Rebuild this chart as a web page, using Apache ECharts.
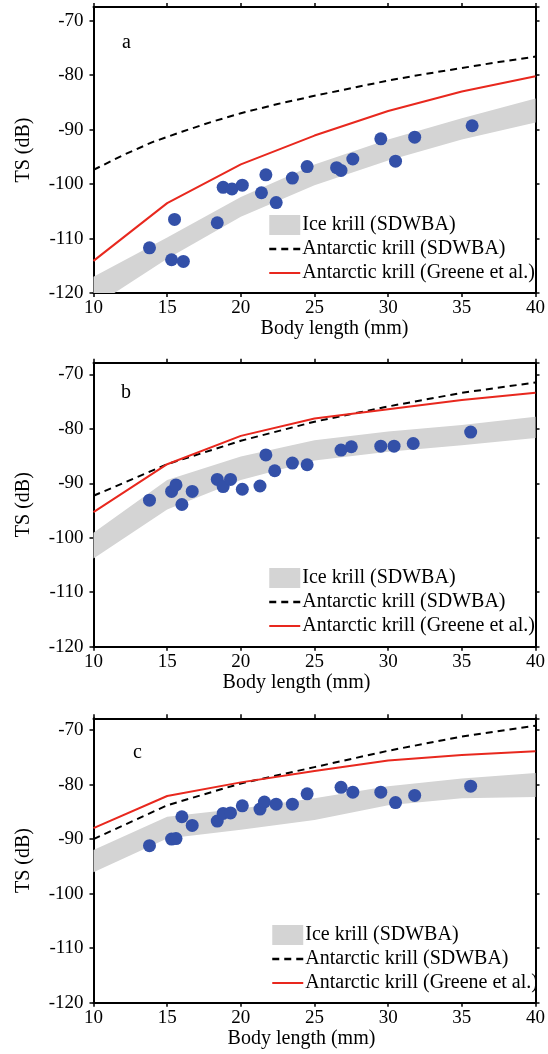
<!DOCTYPE html>
<html>
<head>
<meta charset="utf-8">
<script src="https://cdn.jsdelivr.net/npm/echarts@6/dist/echarts.min.js"></script>
<style>
	html, body { margin: 0; padding: 0; background: #fff; }
	#main { width: 548px; height: 1054px; }
</style>
</head>
<body>
<div id="main"></div>
<script>
// body length grid used by the model curves (mm)
var curveLen = [10, 15, 20, 25, 30, 35, 40];
var dashLenA = [10, 12, 14, 16, 18, 20, 22.5, 25, 27.5, 30, 32.5, 35, 37.5, 40];

// panel a
var bandLowA = [-122.5, -113.7, -106.0, -100.2, -95.7, -91.8, -88.7];
var bandUpA = [-117.0, -109.8, -102.4, -96.4, -91.8, -87.9, -84.3];
var sdwbaA = [-97.4, -94.7, -92.3, -90.4, -88.6, -87.0, -85.3, -83.8, -82.4, -81.0, -79.8, -78.7, -77.6, -76.6];
var greeneA = [-114.1, -103.5, -96.4, -91.1, -86.6, -83.0, -80.2];
var lenA = [13.8, 15.3, 15.5, 16.1, 18.4, 18.8, 19.4, 20.1, 21.4, 21.7, 22.4, 23.5, 24.5, 26.5, 26.8, 27.6, 29.5, 30.5, 31.8, 35.7];
var tsA = [-111.7, -113.9, -106.5, -114.2, -107.1, -100.6, -100.9, -100.2, -101.6, -98.3, -103.4, -98.9, -96.8, -97.0, -97.5, -95.4, -91.7, -95.8, -91.4, -89.3];

// panel b
var bandLowB = [-103.8, -94.8, -89.4, -85.8, -84.2, -83.0, -81.7];
var bandUpB = [-99.1, -89.4, -85.1, -82.1, -80.5, -79.3, -77.8];
var sdwbaB = [-92.3, -86.5, -82.2, -78.7, -75.9, -73.4, -71.5];
var greeneB = [-95.3, -86.5, -81.3, -78.1, -76.4, -74.7, -73.4];
var lenB = [13.8, 15.3, 15.6, 16.0, 16.7, 18.4, 18.8, 19.3, 20.1, 21.3, 21.7, 22.3, 23.5, 24.5, 26.8, 27.5, 29.5, 30.4, 31.7, 35.6];
var tsB = [-93.1, -91.5, -90.3, -93.9, -91.5, -89.3, -90.6, -89.3, -91.1, -90.5, -84.8, -87.7, -86.3, -86.6, -83.9, -83.3, -83.2, -83.2, -82.7, -80.6];

// panel c
var bandLowC = [-96.1, -89.9, -88.3, -86.5, -83.8, -82.5, -82.3];
var bandUpC = [-92.0, -85.9, -84.4, -82.5, -80.3, -78.9, -77.9];
var sdwbaC = [-90.0, -83.8, -79.8, -76.8, -73.8, -71.2, -69.2];
var greeneC = [-88.0, -82.1, -79.6, -77.5, -75.6, -74.6, -73.9];
var lenC = [13.8, 15.3, 15.6, 16.0, 16.7, 18.4, 18.8, 19.3, 20.1, 21.3, 21.6, 22.4, 23.5, 24.5, 26.8, 27.6, 29.5, 30.5, 31.8, 35.6];
var tsC = [-91.2, -90.0, -89.9, -85.9, -87.5, -86.7, -85.3, -85.2, -83.9, -84.5, -83.2, -83.6, -83.6, -81.7, -80.5, -81.4, -81.4, -83.3, -82.0, -80.3];

var yTicks = [-120, -110, -100, -90, -80, -70];
var panelNames = ['a', 'b', 'c'];

var FONT = "'Liberation Serif', 'Times New Roman', serif";
var NAME_BAND = 'Ice krill (SDWBA)';
var NAME_SDWBA = 'Antarctic krill (SDWBA)';
var NAME_GREENE = 'Antarctic krill (Greene et al.)';
var BAND_COLOR = '#d4d4d4';

var panels = [
	{ band: [bandLowA, bandUpA], dash: [dashLenA, sdwbaA], red: greeneA, len: lenA, ts: tsA,
	  top: 7, height: 286, ymax: -67.5, legendTop: 215, legendLeft: 268, letter: [122, 33], xNamePad: [0, 0, 0, 40] },
	{ band: [bandLowB, bandUpB], dash: [curveLen, sdwbaB], red: greeneB, len: lenB, ts: tsB,
	  top: 362.7, height: 284, ymax: -67.87, legendTop: 568, legendLeft: 268, letter: [121, 383], xNamePad: [0, 36, 0, 0] },
	{ band: [bandLowC, bandUpC], dash: [curveLen, sdwbaC], red: greeneC, len: lenC, ts: tsC,
	  top: 718.3, height: 284.4, ymax: -67.85, legendTop: 925, legendLeft: 271, letter: [133, 743], xNamePad: [0, 26, 0, 0] }
];

function pairs(xs, ys) {
	return xs.map(function (x, i) { return [x, ys[i]]; });
}

// the shaded band: one polygon, upper edge forward then lower edge back
function bandRenderer(low, up) {
	return function (params, api) {
		if (params.dataIndex !== 0) {
			return;
		}
		var pts = [];
		curveLen.forEach(function (x, i) {
			pts.push(api.coord([x, up[i]]));
		});
		for (var i = curveLen.length - 1; i >= 0; i--) {
			pts.push(api.coord([curveLen[i], low[i]]));
		}
		return {
			type: 'polygon',
			shape: { points: pts },
			style: { fill: BAND_COLOR, stroke: null }
		};
	};
}

var option = {
	backgroundColor: '#fff',
	animation: false,
	textStyle: { fontFamily: FONT, color: '#000' },
	title: [],
	legend: [],
	grid: [],
	xAxis: [],
	yAxis: [],
	series: []
};

panels.forEach(function (p, k) {
	var axisLine = { show: true, onZero: false, lineStyle: { color: '#000', width: 2 } };
	var tick = { show: true, length: 4, lineStyle: { color: '#000', width: 1.5 } };

	option.grid.push({ left: 93.5, right: 11, top: p.top, height: p.height });

	option.title.push({
		text: panelNames[k], left: p.letter[0], top: p.letter[1], padding: 0,
		textStyle: { fontFamily: FONT, fontSize: 20, fontWeight: 'normal', color: '#000' }
	});

	// bottom + top x axes
	option.xAxis.push({
		type: 'value', gridIndex: k, min: 10, max: 40, interval: 5, position: 'bottom',
		name: 'Body length (mm)', nameLocation: 'middle', nameGap: 26,
		nameTextStyle: { fontFamily: FONT, fontSize: 20, color: '#000', padding: p.xNamePad },
		axisLine: axisLine, axisTick: tick, splitLine: { show: false },
		axisLabel: { fontFamily: FONT, fontSize: 19, color: '#000', margin: 6 }
	});
	option.xAxis.push({
		type: 'value', gridIndex: k, min: 10, max: 40, interval: 5, position: 'top',
		axisLine: axisLine, axisTick: tick, splitLine: { show: false }, axisLabel: { show: false }
	});

	// left + right y axes
	option.yAxis.push({
		type: 'value', gridIndex: k, min: yTicks[0], max: p.ymax, interval: 10, position: 'left',
		name: 'TS (dB)', nameLocation: 'middle', nameGap: 60,
		nameTextStyle: { fontFamily: FONT, fontSize: 20, color: '#000' },
		axisLine: axisLine, axisTick: tick, splitLine: { show: false },
		axisLabel: { fontFamily: FONT, fontSize: 19, color: '#000', margin: 10, showMaxLabel: false }
	});
	option.yAxis.push({
		type: 'value', gridIndex: k, min: yTicks[0], max: p.ymax, interval: 10, position: 'right',
		axisLine: axisLine, axisTick: tick, splitLine: { show: false }, axisLabel: { show: false }
	});

	var xi = k * 2, yi = k * 2;
	var low = p.band[0], up = p.band[1];

	option.series.push({
		name: NAME_BAND, type: 'custom', xAxisIndex: xi, yAxisIndex: yi, clip: true,
		data: curveLen.map(function (x, i) { return [x, low[i], up[i]]; }),
		encode: { x: 0, y: [1, 2] },
		renderItem: bandRenderer(low, up),
		itemStyle: { color: BAND_COLOR }, silent: true, z: 1
	});
	option.series.push({
		name: NAME_SDWBA, type: 'line', xAxisIndex: xi, yAxisIndex: yi,
		data: pairs(p.dash[0], p.dash[1]), symbol: 'none',
		lineStyle: { color: '#000', width: 2, type: [7, 5] }, itemStyle: { color: '#000' }, z: 3
	});
	option.series.push({
		name: NAME_GREENE, type: 'line', xAxisIndex: xi, yAxisIndex: yi,
		data: pairs(curveLen, p.red), symbol: 'none',
		lineStyle: { color: '#e8281e', width: 2 }, itemStyle: { color: '#e8281e' }, z: 3
	});
	option.series.push({
		type: 'scatter', xAxisIndex: xi, yAxisIndex: yi,
		data: pairs(p.len, p.ts), symbol: 'circle', symbolSize: 13,
		itemStyle: { color: '#3350a8', opacity: 1 }, z: 4
	});

	option.legend.push({
		orient: 'vertical', left: p.legendLeft, top: p.legendTop, padding: 0,
		itemWidth: 31, itemHeight: 20, itemGap: 4, selectedMode: false,
		textStyle: { fontFamily: FONT, fontSize: 20, color: '#000', padding: [0, 0, 0, -3] },
		data: [
			{ name: NAME_BAND, icon: 'rect', itemStyle: { color: BAND_COLOR } },
			{ name: NAME_SDWBA, itemStyle: { opacity: 0 }, lineStyle: { color: '#000', width: 2.5, type: [7, 5] } },
			{ name: NAME_GREENE, itemStyle: { opacity: 0 }, lineStyle: { color: '#e8281e', width: 2 } }
		]
	});
});

var chart = echarts.init(document.getElementById('main'), null, { renderer: 'canvas' });
chart.setOption(option);
</script>
</body>
</html>
